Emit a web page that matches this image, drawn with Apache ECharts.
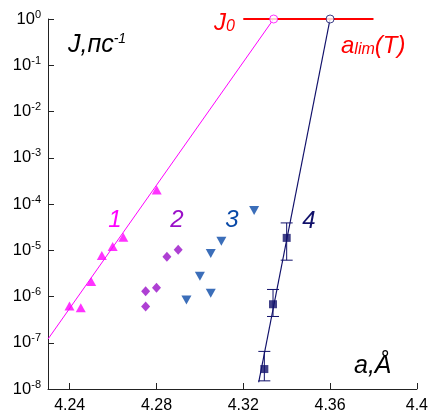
<!DOCTYPE html>
<html>
<head>
<meta charset="utf-8">
<script src="https://cdn.jsdelivr.net/npm/echarts@6/dist/echarts.min.js"></script>
<style>
html,body{margin:0;padding:0;background:#fff;}
#c{width:431px;height:414px;}
</style>
</head>
<body>
<div id="c"></div>
<script>
// ---- data ----
const xTicks = [4.24, 4.28, 4.32, 4.36, 4.4];
const yTicks = [1e-8, 1e-7, 1e-6, 1e-5, 1e-4, 1e-3, 1e-2, 1e-1, 1];
// series 1: magenta up-triangles
const s1 = [[4.2399, 6.2e-7], [4.2451, 5.7e-7], [4.2499, 2.1e-6], [4.2548, 7.7e-6], [4.2598, 1.2e-5], [4.2647, 1.9e-5], [4.2801, 2.0e-4]];
// series 2: purple diamonds
const s2 = [[4.275, 6.1e-7], [4.275, 1.3e-6], [4.280, 1.55e-6], [4.2848, 7.2e-6], [4.290, 1.03e-5]];
// series 3: blue down-triangles
const s3 = [[4.2938, 8.4e-7], [4.300, 2.75e-6], [4.305, 1.17e-6], [4.305, 8.5e-6], [4.3099, 1.56e-5], [4.325, 7.2e-5]];
// series 4: navy squares with error bars [x, y, low, high]
const s4 = [[4.3297, 2.7e-8, 1.5e-8, 6.5e-8], [4.3337, 6.8e-7, 3.7e-7, 1.42e-6], [4.340, 1.85e-5, 6.1e-6, 3.9e-5]];
// fit lines
const fit1 = [[4.23, 1.2e-7], [4.334, 1]];
const fit4 = [[4.3271, 1.4e-8], [4.36, 1]];
// J0 level line and limit points
const j0Line = [[4.32, 1], [4.38, 1]];
const lim1 = [[4.334, 1]];
const lim4 = [[4.36, 1]];

const MAG = '#ff00ff', PUR = '#9a10c8', BLU = '#0a4aa8', NAV = '#10106a', RED = '#ff0000';
const FONT = '"Liberation Sans", Arial, sans-serif';

const chart = echarts.init(document.getElementById('c'), null, {renderer: 'canvas'});

function lbl(x, y, text, color, size, align) {
  return {type: 'text', x: x, y: y, style: {text: text, fill: color, fontSize: size || 24, fontStyle: 'italic',
    fontFamily: FONT, align: align || 'center', verticalAlign: 'middle'}};
}

const option = {
  animation: false,
  backgroundColor: '#fff',
  grid: {left: 48, right: 13, top: 19, bottom: 24, containLabel: false},
  xAxis: {
    type: 'value', min: 4.23, max: 4.4,
    axisLine: {show: true, lineStyle: {color: '#222', width: 1}},
    axisTick: {show: true, inside: true, length: 6, customValues: xTicks, lineStyle: {color: '#222'}},
    axisLabel: {show: true, customValues: xTicks, margin: 9, color: '#000', fontSize: 16, fontFamily: FONT,
      formatter: v => String(Math.round(v * 100) / 100)},
    splitLine: {show: false}
  },
  yAxis: {
    type: 'log', logBase: 10, min: 1e-8, max: 1, interval: 1, splitNumber: 8,
    axisLine: {show: true, lineStyle: {color: '#222', width: 1}},
    axisTick: {show: true, inside: true, length: 6, lineStyle: {color: '#222'}},
    axisLabel: {show: true, margin: 7, color: '#000', fontSize: 16.5, fontFamily: FONT,
      formatter: v => '10{sup|' + Math.round(Math.log10(v)) + '}',
      rich: {sup: {fontSize: 11, fontFamily: FONT, color: '#000', padding: [0, 0, 9, 0]}}},
    splitLine: {show: false}
  },
  series: [
    {type: 'line', data: fit1, symbol: 'none', lineStyle: {color: MAG, width: 1}, z: 2},
    {type: 'line', data: fit4, symbol: 'none', lineStyle: {color: NAV, width: 1.2}, z: 2},
    {type: 'line', data: j0Line, symbol: 'none', lineStyle: {color: RED, width: 2}, z: 2, clip: false},
    {type: 'scatter', data: s1, symbol: 'triangle', symbolSize: [10, 9], itemStyle: {color: MAG}, z: 3},
    {type: 'scatter', data: s2, symbol: 'diamond', symbolSize: [9, 10], itemStyle: {color: PUR}, z: 3},
    {type: 'scatter', data: s3, symbol: 'triangle', symbolRotate: 180, symbolSize: [10, 9], itemStyle: {color: BLU}, z: 3},
    {type: 'custom', data: s4, z: 3,
      renderItem: function (params, api) {
        const x = api.value(0);
        const pl = api.coord([x, api.value(2)]);
        const ph = api.coord([x, api.value(3)]);
        const st = {stroke: NAV, lineWidth: 1};
        return {type: 'group', children: [
          {type: 'line', shape: {x1: pl[0], y1: pl[1], x2: ph[0], y2: ph[1]}, style: st},
          {type: 'line', shape: {x1: pl[0] - 6, y1: pl[1], x2: pl[0] + 6, y2: pl[1]}, style: st},
          {type: 'line', shape: {x1: ph[0] - 6, y1: ph[1], x2: ph[0] + 6, y2: ph[1]}, style: st}
        ]};
      }},
    {type: 'scatter', data: s4.map(d => [d[0], d[1]]), symbol: 'rect', symbolSize: 8, itemStyle: {color: NAV}, z: 4},
    {type: 'scatter', data: lim1, symbol: 'circle', symbolSize: 8, clip: false,
      itemStyle: {color: '#fff', borderColor: MAG, borderWidth: 1}, z: 5},
    {type: 'scatter', data: lim4, symbol: 'circle', symbolSize: 8, clip: false,
      itemStyle: {color: '#fff', borderColor: NAV, borderWidth: 1}, z: 5}
  ],
  graphic: [
    {type: 'text', x: 68, y: 45, style: {text: '{m|J,пс}{s|-1}', fill: '#000', verticalAlign: 'middle',
      rich: {m: {fontSize: 25, fontStyle: 'italic', fontFamily: FONT, fill: '#000'},
             s: {fontSize: 14, fontStyle: 'italic', fontFamily: FONT, fill: '#000', padding: [0, 0, 12, 0]}}}},
    {type: 'text', x: 214, y: 23, style: {text: '{m|J}{s|0}', fill: RED, verticalAlign: 'middle',
      rich: {m: {fontSize: 24, fontStyle: 'italic', fontFamily: FONT, fill: RED},
             s: {fontSize: 16, fontStyle: 'italic', fontFamily: FONT, fill: RED, padding: [0, 0, -8, 0]}}}},
    {type: 'text', x: 341, y: 46, style: {text: '{m|a}{s|lim}{m|(T)}', fill: RED, verticalAlign: 'middle',
      rich: {m: {fontSize: 24, fontStyle: 'italic', fontFamily: FONT, fill: RED},
             s: {fontSize: 16, fontStyle: 'italic', fontFamily: FONT, fill: RED, padding: [0, 0, -8, 0]}}}},
    lbl(115, 220, '1', MAG),
    lbl(177, 220, '2', PUR),
    lbl(232, 220, '3', BLU),
    lbl(309, 221, '4', NAV),
    lbl(354, 366, 'a,Å', '#000', 25, 'left')
  ]
};
chart.setOption(option);
</script>
</body>
</html>
